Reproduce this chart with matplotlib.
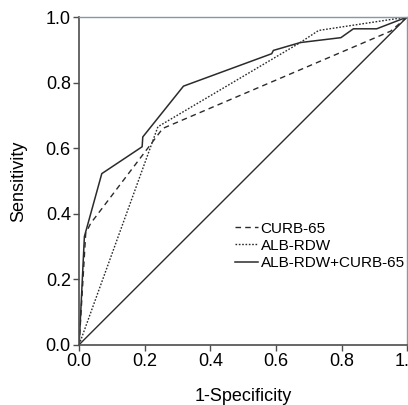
import matplotlib
matplotlib.use("Agg")
import matplotlib.pyplot as plt

# === DATA ===
curb_fpr = [0.0, 0.02, 0.035, 0.255, 0.95, 1.0]
curb_tpr = [0.0, 0.34, 0.37, 0.66, 0.957, 1.0]

alb_fpr = [0.0, 0.24, 0.674, 0.73, 1.0]
alb_tpr = [0.0, 0.665, 0.922, 0.959, 1.0]

comb_fpr = [0.0, 0.016, 0.069, 0.192, 0.194, 0.318, 0.587, 0.592, 0.674, 0.798, 0.836, 0.907, 1.0]
comb_tpr = [0.0, 0.33, 0.522, 0.604, 0.634, 0.789, 0.888, 0.898, 0.922, 0.937, 0.964, 0.964, 1.0]

ref_line = [0.0, 1.0]

ticks = [0.0, 0.2, 0.4, 0.6, 0.8, 1.0]
tick_labels = ["0.0", "0.2", "0.4", "0.6", "0.8", "1.0"]

LINE_COLOR = "#2b2b2b"
SPINE_DARK = "#4d4d4d"
SPINE_LIGHT = "#8797a3"

plt.rcParams["font.family"] = ["Liberation Sans", "DejaVu Sans"]

fig = plt.figure(figsize=(4.08, 4.05), dpi=100)
ax = fig.add_axes([0.194, 0.149, 0.804, 0.809])

ax.plot(curb_fpr, curb_tpr, color=LINE_COLOR, lw=1.0, linestyle=(0, (4, 3)), label="CURB-65")
ax.plot(alb_fpr, alb_tpr, color=LINE_COLOR, lw=1.0, linestyle=(0, (1.2, 1.2)), label="ALB-RDW")
ax.plot(comb_fpr, comb_tpr, color=LINE_COLOR, lw=1.1, linestyle="-", label="ALB-RDW+CURB-65")
ax.plot(ref_line, ref_line, color=LINE_COLOR, lw=1.0)

ax.set_xlim(0, 1)
ax.set_ylim(0, 1)
ax.set_xticks(ticks)
ax.set_xticklabels(tick_labels)
ax.set_yticks(ticks)
ax.set_yticklabels(tick_labels)
ax.tick_params(axis="both", labelsize=13, direction="out", length=4, width=1,
               color=SPINE_DARK, pad=2)

for side in ["left", "bottom"]:
    ax.spines[side].set_color(SPINE_DARK)
    ax.spines[side].set_linewidth(1.2)
for side in ["top", "right"]:
    ax.spines[side].set_color(SPINE_LIGHT)
    ax.spines[side].set_linewidth(1.0)

ax.set_xlabel("1-Specificity", fontsize=13, labelpad=13)
ax.set_ylabel("Sensitivity", fontsize=13, labelpad=13)

ax.legend(loc="upper left", bbox_to_anchor=(0.476, 0.375), frameon=False, fontsize=11,
          handlelength=1.5, handletextpad=0.15, labelspacing=0.2, borderaxespad=0,
          borderpad=0)

fig.savefig("out.png", dpi=100)
